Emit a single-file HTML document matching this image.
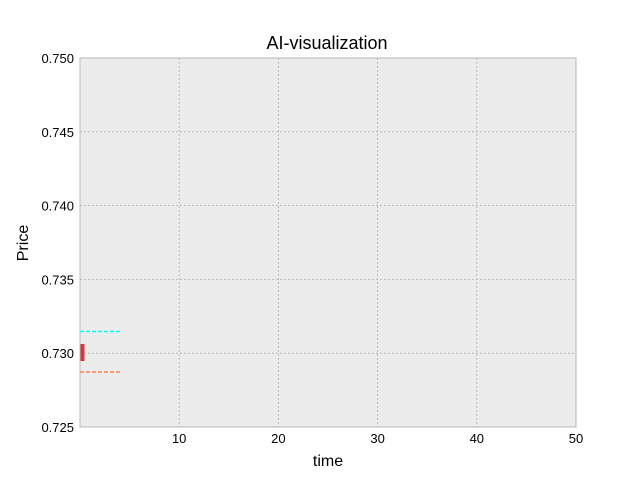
<!DOCTYPE html>
<html><head><meta charset="utf-8"><style>
body{margin:0;background:#fff;font-family:"Liberation Sans","DejaVu Sans",sans-serif;}
</style></head><body>
<svg id="c" width="640" height="480" xmlns="http://www.w3.org/2000/svg"></svg>
<script>
const xTicks=[10,20,30,40,50];
const yTicks=[0.725,0.730,0.735,0.740,0.745,0.750];
const candleX=[0.25];
const candleOpen=[0.73062];
const candleClose=[0.72947];
const upperBand=[0.73147];
const lowerBand=[0.72873];
const bandStart=[0];
const bandEnd=[4.1];
const L=80,R=576,T=58,B=427,x0=0,x1=50,y0=0.725,y1=0.75;
const sx=v=>L+(v-x0)/(x1-x0)*(R-L);
const sy=v=>B-(v-y0)/(y1-y0)*(B-T);
const svg=document.getElementById('c');
const NS='http://www.w3.org/2000/svg';
function mk(t,a,txt){const e=document.createElementNS(NS,t);for(const k in a)e.setAttribute(k,a[k]);if(txt!=null)e.textContent=txt;svg.appendChild(e);return e;}
let e=mk('rect',{x:L,y:T,width:R-L,height:B-T,fill:'#ececec',stroke:'#bcbcbc'});

xTicks.forEach(v=>{
 let g=mk('line',{x1:sx(v),x2:sx(v),y1:T,y2:B,stroke:'#b0b0b0','stroke-width':0.8,'stroke-dasharray':'2,2'});
 
 let t=mk('text',{x:sx(v),y:B+16,'font-size':13,'text-anchor':'middle',fill:'#000'},String(v));
 
});
yTicks.forEach(v=>{
 let g=mk('line',{x1:L,x2:R,y1:sy(v),y2:sy(v),stroke:'#b0b0b0','stroke-width':0.8,'stroke-dasharray':'2,2'});
 
 let t=mk('text',{x:L-6,y:sy(v)+5,'font-size':13,'text-anchor':'end',fill:'#000'},v.toFixed(3));
 
});
upperBand.forEach((v,i)=>{
 let l=mk('line',{x1:sx(bandStart[i]),x2:sx(bandEnd[i]),y1:sy(v),y2:sy(v),stroke:'#00ffff','stroke-width':1.5,'stroke-dasharray':'4,2'});
 
});
lowerBand.forEach((v,i)=>{
 let l=mk('line',{x1:sx(bandStart[i]),x2:sx(bandEnd[i]),y1:sy(v),y2:sy(v),stroke:'#ff7f50','stroke-width':1.5,'stroke-dasharray':'4,2'});
 
});
candleX.forEach((v,i)=>{
 const top=Math.max(candleOpen[i],candleClose[i]),bot=Math.min(candleOpen[i],candleClose[i]);
 let r=mk('rect',{x:sx(v)-2,y:sy(top),width:4,height:sy(bot)-sy(top),fill:candleClose[i]<candleOpen[i]?'#d03a3a':'#3a9a3a'});
 
});
e=mk('text',{x:327,y:49,'font-size':18,'text-anchor':'middle',fill:'#000'},'AI-visualization');

e=mk('text',{x:328,y:466,'font-size':16,'text-anchor':'middle',fill:'#000'},'time');

e=mk('text',{x:28,y:243,'font-size':16,'text-anchor':'middle',fill:'#000',transform:'rotate(-90 28 243)'},'Price');

</script>
</body></html>
